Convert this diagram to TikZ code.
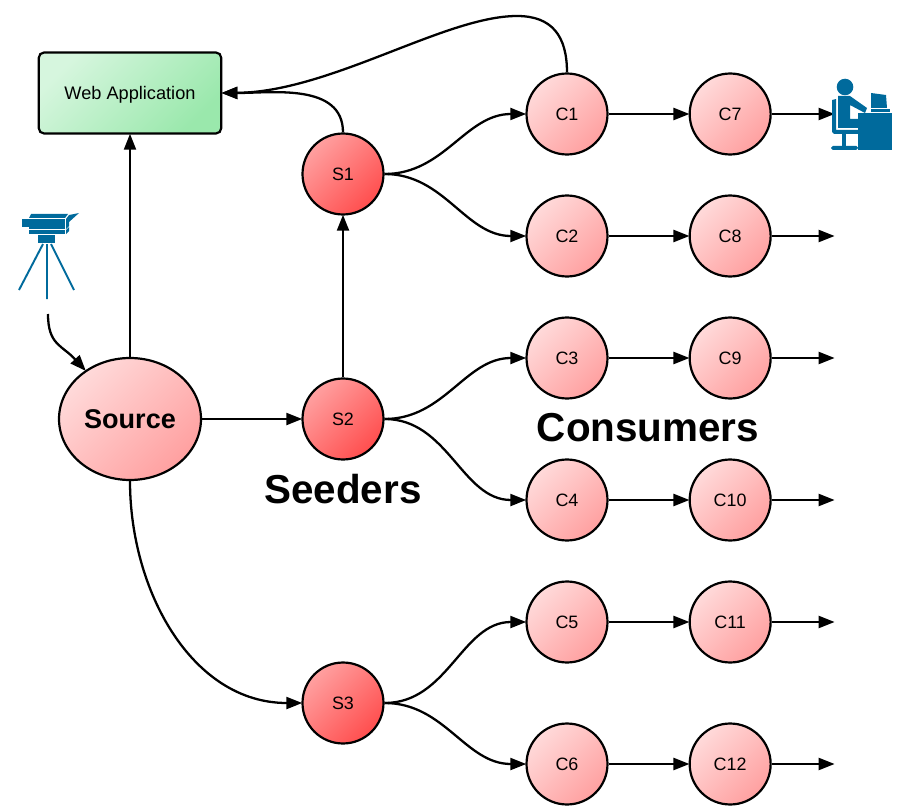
\documentclass[tikz,border=0pt]{standalone}
\usepackage{fontspec}
\setmainfont{Liberation Sans}
\usetikzlibrary{arrows.meta, positioning, shapes.geometric}
\definecolor{iconblue}{RGB}{0, 106, 156}
\definecolor{seedlight}{RGB}{255, 160, 160}
\definecolor{seeddark}{RGB}{255, 78, 78}
\definecolor{conslight}{RGB}{255, 218, 218}
\definecolor{consdark}{RGB}{255, 160, 160}
\definecolor{weblight}{RGB}{214, 246, 222}
\definecolor{webdark}{RGB}{154, 232, 172}

\begin{document}
\begin{tikzpicture}[
    x=0.02cm, y=-0.02cm,
    circ/.style={circle, draw=black, line width=1.25pt, minimum size=1.62cm, inner sep=0pt, font=\fontsize{10.2}{12}\selectfont},
    seed/.style={circ, top color=seedlight, bottom color=seeddark, shading angle=45},
    cons/.style={circ, top color=conslight, bottom color=consdark, shading angle=45},
    arrow/.style={-{Triangle[length=3.2mm, width=2.4mm]}, line width=1.3pt, shorten >=-0.5pt},
    bigtext/.style={font=\fontsize{23}{28}\selectfont\bfseries}
]
\useasboundingbox (0,0) rectangle (900,811);

% Main components
\node[rectangle, draw=black, line width=1.25pt, rounded corners=3pt, minimum width=3.65cm, minimum height=1.62cm, text depth=0pt, font=\fontsize{10.35}{12}\selectfont, top color=weblight, bottom color=webdark, shading angle=45] (web) at (130,93) {Web Application};
\node[cons, ellipse, minimum width=2.84cm, minimum height=2.44cm, font=\fontsize{15.4}{18}\selectfont\bfseries] (source) at (130,419) {Source};

\node[seed] (S1) at (343,174) {S1};
\node[seed] (S2) at (343,419) {S2};
\node[seed] (S3) at (343,703) {S3};

% Consumers
\node[cons] (C1) at (567,114) {C1};
\node[cons] (C2) at (567,236) {C2};
\node[cons] (C3) at (567,358) {C3};
\node[cons] (C4) at (567,500) {C4};
\node[cons] (C5) at (567,622) {C5};
\node[cons] (C6) at (567,764) {C6};
\node[cons, right=1.6cm of C1] (C7) {C7};
\node[cons, right=1.6cm of C2] (C8) {C8};
\node[cons, right=1.6cm of C3] (C9) {C9};
\node[cons, right=1.6cm of C4] (C10) {C10};
\node[cons, right=1.6cm of C5] (C11) {C11};
\node[cons, right=1.6cm of C6] (C12) {C12};

% Labels
\node[bigtext] (seeders) at (343,489) {Seeders};
\node[bigtext] (consumers) at (648,428) {Consumers};

% Arrows
\draw[arrow] (source) -- (S2);
\draw[arrow] (source) -- (web);
\draw[arrow] (S2) -- (S1);
\draw[arrow] (source.south) to[out=-90, in=180] (S3.west);
\draw[arrow] (S1.north) to[out=90, in=0] (web.east);
\draw[arrow] (C1.north) .. controls (567,36) and (552,16) .. (517,16) .. controls (445,16) and (330,92) .. (web.east);

\foreach \s/\a/\b in {S1/C1/C2, S2/C3/C4, S3/C5/C6} {
    \draw[arrow] (\s.east) to[out=0, in=180] (\a.west);
    \draw[arrow] (\s.east) to[out=0, in=180] (\b.west);
}
\foreach \a/\b in {C1/C7, C2/C8, C3/C9, C4/C10, C5/C11, C6/C12} {
    \draw[arrow] (\a) -- (\b);
}
\foreach \a in {C7, C8, C9, C10, C11, C12} {
    \coordinate[right=1.24cm of \a.east] (\a end);
    \draw[arrow] (\a) -- (\a end);
}

% Camera
\fill[iconblue] (22,219) rectangle (29,227);
\fill[iconblue] (29,218) -- (31,214) -- (68,214) -- (65,218) -- cycle;
\fill[iconblue] (29,218.6) rectangle (64.5,229);
\fill[iconblue] (29,230) rectangle (64.5,234);
\fill[iconblue] (66,219) -- (69,215) -- (79,213) -- (69,222) -- (69,226) -- (66,229) -- cycle;
\fill[iconblue] (66,230) -- (69,227) -- (69,231) -- (66,234) -- cycle;
\fill[iconblue] (38,235) rectangle (55,243);
\draw[iconblue, line width=1.1pt] (43,244) -- (19,290) (47,244) -- (47,299) (51,244) -- (74,290);
\coordinate (camera) at (48,314);
\draw[arrow] (camera) .. controls (48,345) and (62,345) .. (source);

% Person at desk
\fill[iconblue] (845,87) circle (8.3);
\fill[iconblue] (832,100) -- (836,99) -- (836,130) -- (858,130) -- (858,134) -- (834,134) -- (832,132) -- cycle;
\fill[iconblue] (838,96) -- (850,96) -- (867,108) -- (865,113) -- (850,105) -- (850,119) -- (858,119) -- (858,128) -- (838,128) -- cycle;
\fill[iconblue] (842,134) rectangle (846,146);
\fill[iconblue, rounded corners=1pt] (831,146) rectangle (858,150);
\fill[iconblue] (858,113) rectangle (892,150);
\fill[iconblue] (871,93) -- (886,95) -- (887,108) -- (871,108) -- cycle;
\fill[iconblue] (871,109) rectangle (890,112);
\end{tikzpicture}
\end{document}
